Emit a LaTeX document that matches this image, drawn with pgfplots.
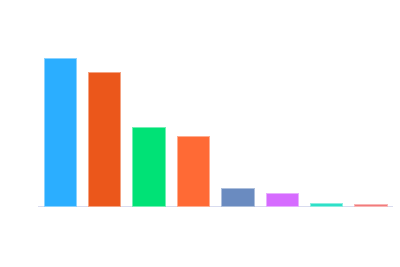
\documentclass[border=0pt]{standalone}
\usepackage{pgfplots}
\pgfplotsset{compat=1.18}
\definecolor{c1}{HTML}{2BAEFF}
\definecolor{c2}{HTML}{EB571B}
\definecolor{c3}{HTML}{00E276}
\definecolor{c4}{HTML}{FF6A35}
\definecolor{c5}{HTML}{6A8BC0}
\definecolor{c6}{HTML}{D66BFF}
\definecolor{c7}{HTML}{2EE0C8}
\definecolor{c8}{HTML}{F27B7B}
\definecolor{axl}{HTML}{D9DCEF}
\begin{document}
\begin{tikzpicture}[x=1bp,y=1bp]
\path[use as bounding box] (0,0) rectangle (400,267);
\begin{axis}[
  at={(38bp,61bp)}, anchor=south west,
  scale only axis, width=355bp, height=176bp,
  xmin=-0.5, xmax=7.5, ymin=0, ymax=176,
  hide y axis,
  axis x line*=bottom,
  x axis line style={color=axl, line width=0.8bp, -},
  xtick=\empty, ytick=\empty,
  ybar, bar width=0.73, bar shift=0pt,
  clip=false,
]
\addplot[fill=c1, draw=c1!55!white, line width=0.7bp] coordinates {(0,147.7)};
\addplot[fill=c2, draw=c2!55!white, line width=0.7bp] coordinates {(1,133.7)};
\addplot[fill=c3, draw=c3!55!white, line width=0.7bp] coordinates {(2,79)};
\addplot[fill=c4, draw=c4!55!white, line width=0.7bp] coordinates {(3,69.7)};
\addplot[fill=c5, draw=c5!55!white, line width=0.7bp] coordinates {(4,17.7)};
\addplot[fill=c6, draw=c6!55!white, line width=0.7bp] coordinates {(5,13)};
\addplot[fill=c7, draw=c7!55!white, line width=0.7bp] coordinates {(6,3)};
\addplot[fill=c8, draw=c8!55!white, line width=0.7bp] coordinates {(7,1.3)};
\end{axis}
\end{tikzpicture}
\end{document}
